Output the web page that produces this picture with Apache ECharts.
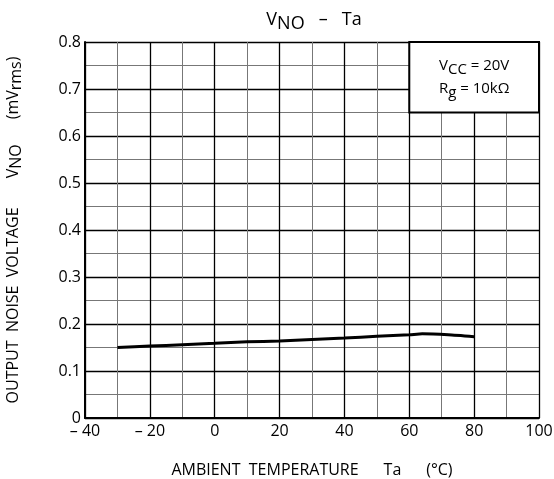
<!DOCTYPE html>
<html>
<head>
<meta charset="utf-8">
<script src="https://cdn.jsdelivr.net/npm/echarts@6/dist/echarts.min.js"></script>
<style>
  html, body { margin: 0; padding: 0; background: #fff; }
  #chart { width: 554px; height: 479px; }
</style>
</head>
<body>
<div id="chart"></div>
<script>
// curve: ambient temperature (°C) vs output noise (mVrms)
var temps = [-30, -20, -10, 0, 10, 20, 30, 40, 50, 60, 64, 72, 80];
var noise = [0.150, 0.153, 0.156, 0.159, 0.162, 0.164, 0.167, 0.170, 0.174, 0.177, 0.179, 0.177, 0.173];
// condition box corners (data coords)
var boxX = [60, 100];
var boxY = [0.65, 0.8];

var font = '"Open Sans", "DejaVu Sans", sans-serif';
var points = temps.map(function (t, i) { return [t, noise[i]]; });

var chart = echarts.init(document.getElementById('chart'));
chart.setOption({
  animation: false,
  backgroundColor: '#fff',
  title: {
    text: '{v|V}{s|NO}{v|   –   Ta}',
    left: 309,
    textAlign: 'center',
    top: 2,
    textStyle: {
      fontWeight: 'normal',
      rich: {
        v: { fontFamily: font, fontSize: 18, color: '#000', fontWeight: 'normal' },
        s: { fontFamily: font, fontSize: 18, color: '#000', fontWeight: 'normal', padding: [8, 0, 0, 0] }
      }
    }
  },
  grid: { left: 85, right: 15, top: 42, bottom: 61, containLabel: false, outerBoundsMode: 'none' },
  xAxis: {
    type: 'value',
    min: -40, max: 100, interval: 20,
    name: 'AMBIENT  TEMPERATURE      Ta      (°C)',
    nameLocation: 'middle',
    nameGap: 44,
    nameTextStyle: { fontFamily: font, fontSize: 16, color: '#000' },
    axisLine: { onZero: false, lineStyle: { color: '#000', width: 2 } },
    axisTick: { show: false },
    axisLabel: {
      fontFamily: font, fontSize: 16, color: '#000', margin: 5,
      formatter: function (v) { return v < 0 ? '– ' + (-v) : String(v); }
    },
    splitLine: { show: true, lineStyle: { color: '#000', width: 1.3 } },
    minorTick: { show: false, splitNumber: 2 },
    minorSplitLine: { show: true, lineStyle: { color: '#777', width: 1 } }
  },
  yAxis: {
    type: 'value',
    min: 0, max: 0.8, interval: 0.1,
    name: '{n|OUTPUT  NOISE  VOLTAGE       V}{s|NO}{n|      (mV}{s|rms}{n|)}',
    nameLocation: 'middle',
    nameGap: 61,
    nameRotate: 90,
    nameTextStyle: {
      rich: {
        n: { fontFamily: font, fontSize: 16, color: '#000' },
        s: { fontFamily: font, fontSize: 16, color: '#000', padding: [6, 0, 0, 0] }
      }
    },
    axisLine: { show: true, onZero: false, lineStyle: { color: '#000', width: 2 } },
    axisTick: { show: false },
    axisLabel: {
      fontFamily: font, fontSize: 16, color: '#000', margin: 4,
      formatter: function (v) { return v === 0 ? '0' : v.toFixed(1); }
    },
    splitLine: { show: true, lineStyle: { color: '#000', width: 1.3 } },
    minorTick: { show: false, splitNumber: 2 },
    minorSplitLine: { show: true, lineStyle: { color: '#777', width: 1 } }
  },
  series: [{
    type: 'line',
    data: points,
    symbol: 'none',
    smooth: 0.2,
    lineStyle: { color: '#000', width: 3 },
    z: 5,
    markArea: {
      silent: true,
      itemStyle: { color: '#fff', borderColor: '#000', borderWidth: 2, opacity: 1 },
      label: {
        show: true,
        position: 'inside',
        formatter: '{n|V}{s|CC}{n| = 20V}\n{n|R}{s|g}{n| = 10kΩ}',
        rich: {
          n: { fontFamily: font, fontSize: 15, color: '#000', lineHeight: 23 },
          s: { fontFamily: font, fontSize: 15, color: '#000', padding: [7, 0, 0, 0], lineHeight: 23 }
        }
      },
      data: [[{ coord: [boxX[0], boxY[1]] }, { coord: [boxX[1], boxY[0]] }]]
    }
  }]
});
</script>
</body>
</html>
